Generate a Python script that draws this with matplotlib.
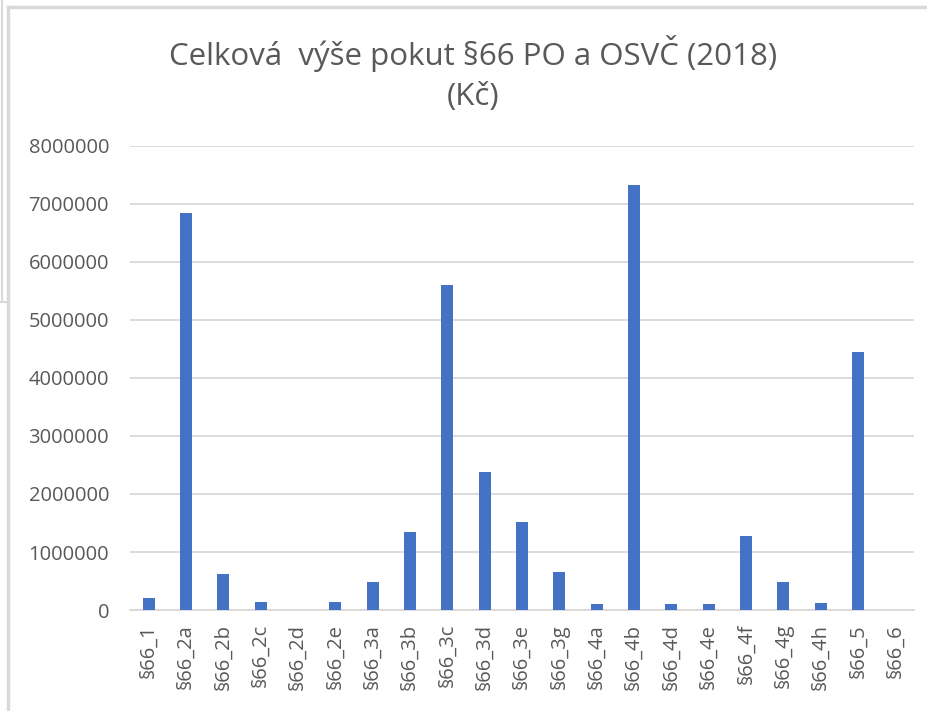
import numpy as np
import matplotlib
matplotlib.use("Agg")
import matplotlib.pyplot as plt
from matplotlib.lines import Line2D

categories = ['§66_1', '§66_2a', '§66_2b', '§66_2c', '§66_2d', '§66_2e', '§66_3a',
              '§66_3b', '§66_3c', '§66_3d', '§66_3e', '§66_3g', '§66_4a', '§66_4b',
              '§66_4d', '§66_4e', '§66_4f', '§66_4g', '§66_4h', '§66_5', '§66_6']
values = [205000, 6840000, 620000, 135000, 0, 140000, 480000,
          1340000, 5600000, 2380000, 1520000, 650000, 100000, 7330000,
          100000, 100000, 1280000, 480000, 120000, 4450000, 0]
yticks = [0, 1000000, 2000000, 3000000, 4000000, 5000000, 6000000, 7000000, 8000000]

plt.rcParams['font.family'] = ['Open Sans', 'DejaVu Sans']
txt = '#595959'
grid = '#D9D9D9'

fig = plt.figure(figsize=(9.28, 7.11), dpi=100)
ax = fig.add_axes([0.140, 0.142, 0.845, 0.653])

x = np.arange(len(categories))
ax.bar(x, values, width=0.32, color='#4472C4', zorder=3)

ax.set_xlim(-0.5, len(categories) - 0.5)
ax.set_ylim(0, 8000000)
ax.set_yticks(yticks)
ax.set_yticklabels([str(v) for v in yticks], color=txt, fontsize=14.5)
ax.set_xticks(x)
ax.set_xticklabels(categories, rotation=90, color=txt, fontsize=14.5)
ax.tick_params(axis='y', length=0, pad=15)
ax.tick_params(axis='x', length=0, pad=10)
ax.yaxis.grid(True, color=grid, linewidth=1.3, zorder=0)
for s in ['top', 'right', 'left']:
    ax.spines[s].set_visible(False)
ax.spines['bottom'].set_color(grid)
ax.spines['bottom'].set_linewidth(1.3)

fig.text(0.51, 0.925, 'Celková  výše pokut §66 PO a OSVČ (2018)', ha='center', va='center',
         fontsize=22.5, color=txt)
fig.text(0.51, 0.864, '(Kč)', ha='center', va='center', fontsize=22.5, color=txt)

# screenshot frame lines
fig.add_artist(Line2D([0.009, 1], [0.99, 0.99], color=grid, linewidth=2.5, transform=fig.transFigure))
fig.add_artist(Line2D([0.009, 0.009], [0, 0.99], color=grid, linewidth=2.5, transform=fig.transFigure))
fig.add_artist(Line2D([0.002, 0.002], [0.575, 1], color=grid, linewidth=1.5, transform=fig.transFigure))
fig.add_artist(Line2D([0, 0.009], [0.575, 0.575], color=grid, linewidth=1.5, transform=fig.transFigure))

fig.savefig('out.png', dpi=100)
